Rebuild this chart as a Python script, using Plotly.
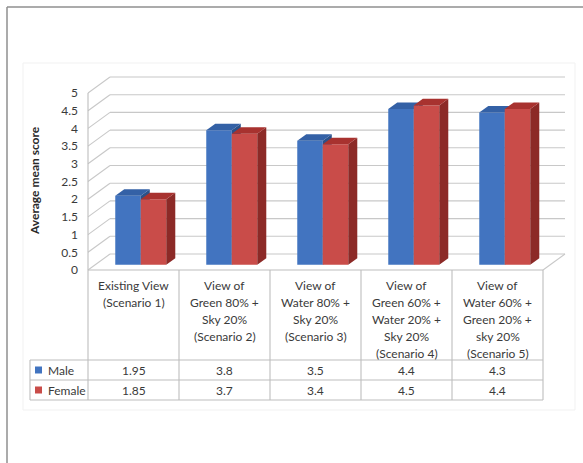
import plotly.graph_objects as go

# ---- data -------------------------------------------------------------
categories = [
    "Existing View\n(Scenario 1)",
    "View of\nGreen 80% +\nSky 20%\n(Scenario 2)",
    "View of\nWater 80% +\nSky 20%\n(Scenario 3)",
    "View of\nGreen 60% +\nWater 20% +\nSky 20%\n(Scenario 4)",
    "View of\nWater 60% +\nGreen 20% +\nsky 20%\n(Scenario 5)",
]
series_names = ["Male", "Female"]
male = [1.95, 3.8, 3.5, 4.4, 4.3]
female = [1.85, 3.7, 3.4, 4.5, 4.4]
y_ticks = [0, 0.5, 1, 1.5, 2, 2.5, 3, 3.5, 4, 4.5, 5]
y_title = "Average mean score"

# ---- page geometry (pixels) ---------------------------------------------
W, H = 583, 463
PX_X = 91.0      # pixels per category
PX_Y = 35.4      # pixels per score unit
X0_PX = 88.0     # left front edge of the floor (category -0.5)
Y0_PX = 270.0    # front edge of the floor (score 0)

# oblique depth of the walls and of the columns, in data units
WDX, WDY = 22.0 / PX_X, 16.0 / PX_Y
BAR_FRONT = 0.33     # depth fraction where the column fronts sit
BAR_DEPTH = 0.41     # depth of a column as fraction of the wall depth
BAR_W = 25.5 / PX_X

FONT = "Lato"
TXT = "#3a3a3a"
GRID = "#c8c8c8"
TABLE = "#bdbdbd"

front = {"Male": "#4274c0", "Female": "#c94c49"}
side = {"Male": "#2b5189", "Female": "#8c2a27"}
topc = {"Male": "#3461a6", "Female": "#a8322f"}


def py(y_px):
    """pixel row -> paper coordinate"""
    return 1 - y_px / H


def px(x_px):
    return x_px / W


x_range = [-0.5 - X0_PX / PX_X, -0.5 + (W - X0_PX) / PX_X]
y_range = [-(H - Y0_PX) / PX_Y, Y0_PX / PX_Y]

fig = go.Figure()
shapes = []
annotations = []


def line(x0, y0, x1, y1, color, width=1.0, xref="x", yref="y"):
    shapes.append(dict(type="line", x0=x0, y0=y0, x1=x1, y1=y1, xref=xref,
                       yref=yref, layer="below",
                       line=dict(color=color, width=width)))


n = len(categories)
left, right = -0.5, n - 0.5

# walls: gridlines on the side wall and the back wall
for v in y_ticks:
    line(left, v, left + WDX, v + WDY, GRID, 1.1)
    line(left + WDX, v + WDY, right + WDX, v + WDY, GRID, 1.1)
# right edge of the floor
line(right, 0, right + WDX, WDY, GRID, 1.1)
# value axis line, continued down as the table's left border
line(left, 5, left, 0, TABLE, 1.1)

# ---- columns ----------------------------------------------------------
base = BAR_FRONT * WDY
shift = BAR_FRONT * WDX
ddx, ddy = BAR_DEPTH * WDX, BAR_DEPTH * WDY

for s, (name, vals) in enumerate(zip(series_names, [male, female])):
    xa = "x" if s == 0 else "x2"
    ya = "y" if s == 0 else "y2"
    centers = [i + shift + (s - 0.5) * BAR_W for i in range(n)]
    # side faces and top faces
    sx, sy, tx, ty = [], [], [], []
    for c, v in zip(centers, vals):
        xl, xr = c - BAR_W / 2, c + BAR_W / 2
        top = base + v
        sx += [xr, xr, xr + ddx, xr + ddx, xr, None]
        sy += [base, top, top + ddy, base + ddy, base, None]
        tx += [xl, xr, xr + ddx, xl + ddx, xl, None]
        ty += [top, top, top + ddy, top + ddy, top, None]
    fig.add_trace(go.Scatter(x=sx, y=sy, fill="toself", mode="lines",
                             fillcolor=side[name], line=dict(width=0),
                             hoverinfo="skip", showlegend=False,
                             xaxis=xa, yaxis=ya))
    fig.add_trace(go.Scatter(x=tx, y=ty, fill="toself", mode="lines",
                             fillcolor=topc[name], line=dict(width=0),
                             hoverinfo="skip", showlegend=False,
                             xaxis=xa, yaxis=ya))
    fig.add_trace(go.Bar(x=centers, y=vals, base=base, width=BAR_W,
                         name=name, marker=dict(color=front[name], line=dict(width=0)),
                         showlegend=False, xaxis=xa, yaxis=ya))

# ---- data table -------------------------------------------------------
ROW1, ROW2, ROW3 = 360, 380, 400     # pixel rows of the table's lower lines
LEG_X = 30                           # left edge of the legend column (px)

line(left, py(Y0_PX), right, py(Y0_PX), TABLE, 1.1, yref="paper")
for r in (ROW1, ROW2, ROW3):
    shapes.append(dict(type="line", xref="paper", yref="paper",
                       x0=px(LEG_X), x1=px(X0_PX + n * PX_X), y0=py(r), y1=py(r),
                       layer="below", line=dict(color=TABLE, width=1.1)))
for k in range(n + 1):
    line(left + k, py(Y0_PX), left + k, py(ROW3), TABLE, 1.1, yref="paper")
shapes.append(dict(type="line", xref="paper", yref="paper",
                   x0=px(LEG_X), x1=px(LEG_X), y0=py(ROW1), y1=py(ROW3),
                   layer="below", line=dict(color=TABLE, width=1.1)))

# category headers, one annotation per text line
LINE_H = 17.0
for i, cat in enumerate(categories):
    for j, part in enumerate(cat.split("\n")):
        annotations.append(dict(x=i, y=py(285 + j * LINE_H), xref="x", yref="paper",
                                text=part, showarrow=False, xanchor="center",
                                yanchor="middle",
                                font=dict(family=FONT, size=12, color=TXT)))

# value rows and legend keys
for r, (name, vals) in enumerate(zip(series_names, [male, female])):
    yc = (ROW1 + 10) + r * 20
    for i, v in enumerate(vals):
        annotations.append(dict(x=i, y=py(yc), xref="x", yref="paper",
                                text=str(v), showarrow=False, xanchor="center",
                                yanchor="middle",
                                font=dict(family=FONT, size=12, color=TXT)))
    shapes.append(dict(type="rect", xref="paper", yref="paper",
                       x0=px(35), x1=px(42), y0=py(yc - 3.5), y1=py(yc + 3.5),
                       fillcolor=front[name], line=dict(width=0)))
    annotations.append(dict(x=px(46), y=py(yc), xref="paper", yref="paper",
                            text=name, showarrow=False, xanchor="left",
                            yanchor="middle",
                            font=dict(family=FONT, size=12, color=TXT)))

# value-axis title
annotations.append(dict(x=px(35), y=py(181), xref="paper", yref="paper",
                        text="<b>%s</b>" % y_title, showarrow=False, textangle=-90,
                        xanchor="center", yanchor="middle",
                        font=dict(family=FONT, size=12, color="#2a2a2a")))

# outer frame (top and left) and faint chart-area outline
shapes.append(dict(type="line", xref="paper", yref="paper", x0=px(7), x1=1,
                   y0=py(7), y1=py(7), line=dict(color="#8f8f8f", width=1.5)))
shapes.append(dict(type="line", xref="paper", yref="paper", x0=px(7), x1=px(7),
                   y0=py(7), y1=0, line=dict(color="#8f8f8f", width=1.5)))
shapes.append(dict(type="rect", xref="paper", yref="paper", x0=px(23), x1=px(575),
                   y0=py(410), y1=py(63), layer="below",
                   line=dict(color="#f1f1f1", width=1)))

tick_text = [("%g" % t) for t in y_ticks]

fig.update_layout(
    width=W, height=H,
    margin=dict(l=0, r=0, t=0, b=0),
    paper_bgcolor="white", plot_bgcolor="white",
    barmode="overlay",
    showlegend=False,
    shapes=shapes,
    annotations=annotations,
    xaxis=dict(range=x_range, visible=False, fixedrange=True),
    xaxis2=dict(range=x_range, visible=False, overlaying="x", fixedrange=True),
    yaxis=dict(range=y_range, anchor="free", position=X0_PX / W,
               tickvals=y_ticks, ticktext=tick_text, showgrid=False,
               zeroline=False, showline=False, ticks="",
               ticklabelstandoff=10,
               tickfont=dict(family=FONT, size=12, color=TXT), fixedrange=True),
    yaxis2=dict(range=y_range, visible=False, overlaying="y", fixedrange=True),
)

fig.write_html("out.html", config={"displayModeBar": False})
